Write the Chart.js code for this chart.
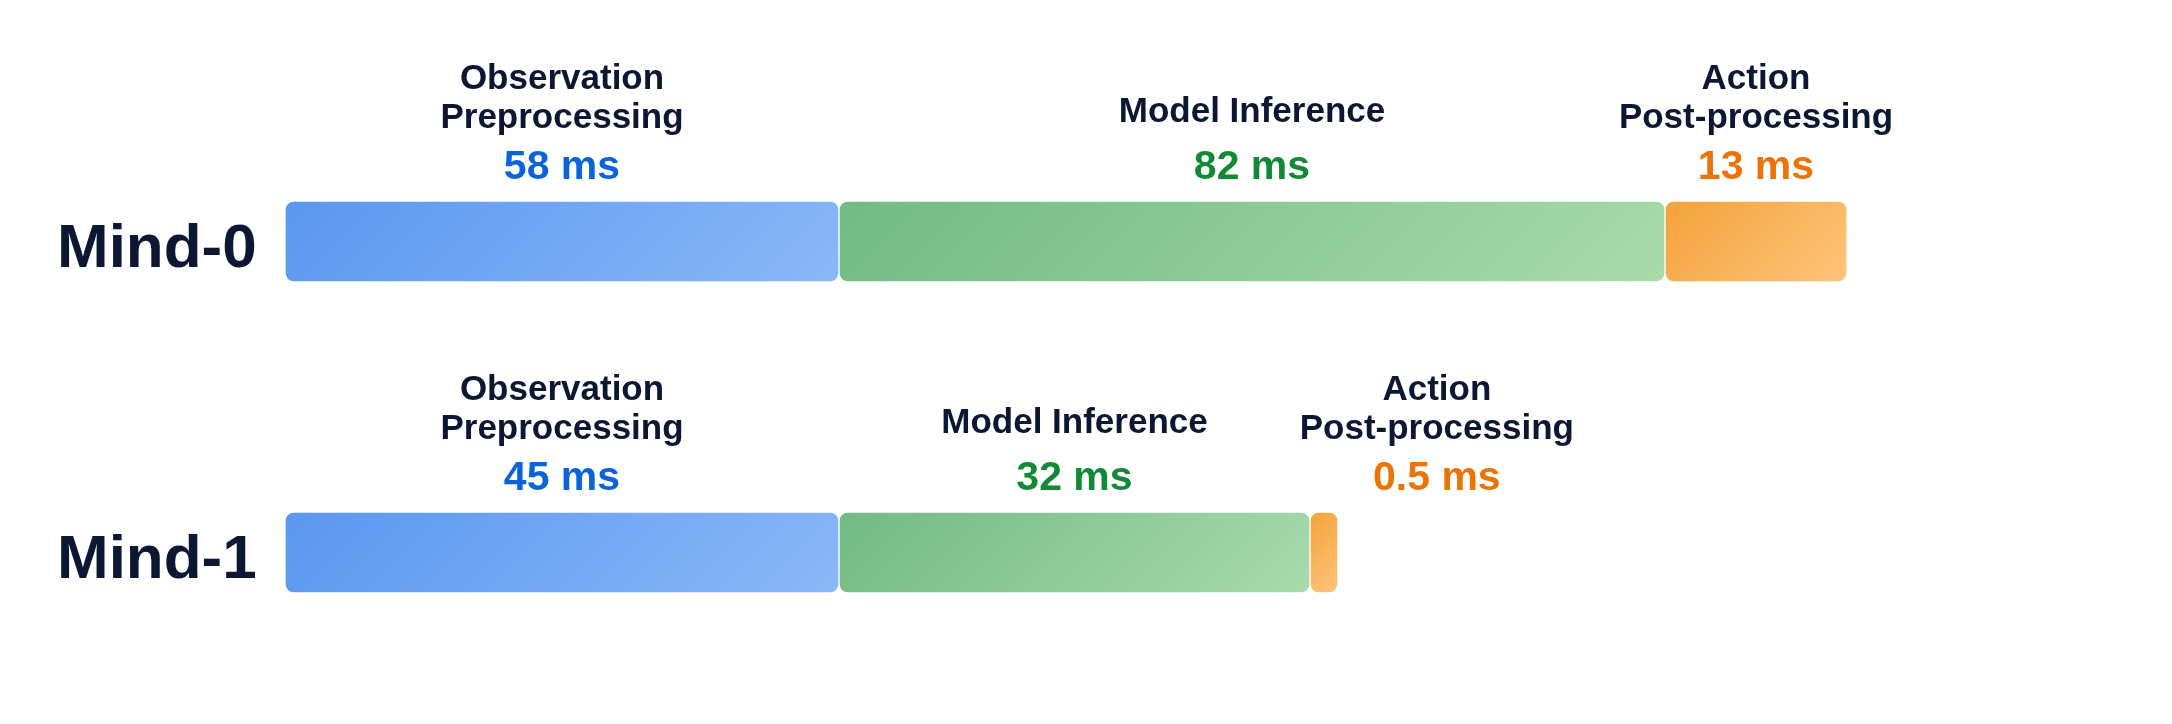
<!DOCTYPE html>
<html>
<head>
<meta charset="utf-8">
<title>Mind latency breakdown</title>
<script src="https://cdn.jsdelivr.net/npm/chart.js@4.4.1/dist/chart.umd.min.js"></script>
<style>
  html, body { margin: 0; padding: 0; background: #ffffff; }
  #wrap { width: 2172px; height: 724px; position: relative; }
</style>
</head>
<body>
<div id="wrap"><canvas id="latencyChart"></canvas></div>
<script>
const models = ['Mind-0', 'Mind-1'];
const stageNames = ['Observation\nPreprocessing', 'Model Inference', 'Action\nPost-processing'];

// drawn segment lengths as they appear in the picture (bars are not to scale with the ms labels)
const preprocessLength = [554, 554];
const inferenceLength = [826, 471];
const postprocessLength = [182, 28];

// timing labels
const preprocessMs = ['58 ms', '45 ms'];
const inferenceMs = ['82 ms', '32 ms'];
const postprocessMs = ['13 ms', '0.5 ms'];

const axisMax = 1800;

const TEXT_DARK = '#0c1733';
const FONT = '"Liberation Sans", Arial, Helvetica, sans-serif';

const stageStyles = [
    { from: '#5b97ef', to: '#8ab8f8', text: '#0b63dc' },
    { from: '#72ba84', to: '#a8dbab', text: '#128a35' },
    { from: '#f4a23a', to: '#fec47c', text: '#ec7404' },
];

const lengths = [preprocessLength, inferenceLength, postprocessLength];
const msLabels = [preprocessMs, inferenceMs, postprocessMs];

const BAR_THICKNESS = 81;

// 135deg style gradient for each segment (top-left darker, bottom-right lighter)
function segmentGradient(context) {
    const chart = context.chart;
    const style = stageStyles[context.datasetIndex];
    const xScale = chart.scales.x;
    const yScale = chart.scales.y;
    if (!chart.chartArea || !xScale || !yScale) return style.from;
    const i = context.dataIndex;
    let start = 0;
    for (let d = 0; d < context.datasetIndex; d++) start += lengths[d][i];
    const end = start + lengths[context.datasetIndex][i];
    const x0 = xScale.getPixelForValue(start);
    const x1 = xScale.getPixelForValue(end);
    const yc = yScale.getPixelForValue(i);
    const cx = (x0 + x1) / 2;
    const half = (Math.abs(x1 - x0) + BAR_THICKNESS) / 4; // half length of the 45deg gradient line, per axis
    const g = chart.ctx.createLinearGradient(cx - half, yc - half, cx + half, yc + half);
    g.addColorStop(0, style.from);
    g.addColorStop(1, style.to);
    return g;
}

// stage names and timings above each segment
const stageLabels = {
    id: 'stageLabels',
    afterDatasetsDraw(chart) {
        const ctx = chart.ctx;
        const catFont = 'bold 35px ' + FONT;
        const valFont = 'bold 41px ' + FONT;
        const minGap = 92;
        ctx.save();
        ctx.textAlign = 'center';
        ctx.textBaseline = 'alphabetic';
        models.forEach((m, i) => {
            let prevRight = -Infinity;
            stageNames.forEach((name, d) => {
                const el = chart.getDatasetMeta(d).data[i];
                if (!el) return;
                const lines = name.split('\n');
                const top = el.y - BAR_THICKNESS / 2 + 1;
                const segCenter = (el.x + el.base) / 2;

                ctx.font = catFont;
                let w = Math.max(...lines.map(l => ctx.measureText(l).width));
                ctx.font = valFont;
                w = Math.max(w, ctx.measureText(msLabels[d][i]).width);
                const cx = Math.max(segCenter, prevRight + minGap + w / 2);
                prevRight = cx + w / 2;

                ctx.font = catFont;
                ctx.fillStyle = TEXT_DARK;
                const lastBase = lines.length > 1 ? top - 74 : top - 80;
                lines.forEach((line, k) => {
                    ctx.fillText(line, cx, lastBase - (lines.length - 1 - k) * 39.5);
                });

                ctx.font = valFont;
                ctx.fillStyle = stageStyles[d].text;
                ctx.fillText(msLabels[d][i], cx, top - 23);
            });
        });
        ctx.restore();
    }
};

const datasets = stageNames.map((name, d) => ({
    label: name.replace('\n', ' '),
    data: lengths[d],
    backgroundColor: segmentGradient,
    borderColor: '#ffffff',
    borderWidth: 1,
    borderSkipped: false,
    borderRadius: { topLeft: 9, topRight: 9, bottomLeft: 9, bottomRight: 9 },
    barThickness: BAR_THICKNESS,
}));

new Chart(document.getElementById('latencyChart'), {
    type: 'bar',
    data: { labels: models, datasets },
    options: {
        indexAxis: 'y',
        responsive: true,
        maintainAspectRatio: false,
        animation: false,
        devicePixelRatio: 1,
        layout: { padding: { left: 57, right: 87, top: 86, bottom: 16 } },
        plugins: {
            legend: { display: false },
            tooltip: { enabled: false },
        },
        scales: {
            x: {
                stacked: true,
                min: 0,
                max: axisMax,
                display: false,
            },
            y: {
                stacked: true,
                grid: { display: false },
                border: { display: false },
                afterFit(scale) {
                    scale.width = 228;
                    scale.paddingTop = 0;
                    scale.paddingBottom = 0;
                },
                ticks: {
                    crossAlign: 'far',
                    labelOffset: 8,
                    color: TEXT_DARK,
                    font: { family: FONT, size: 62, weight: 'bold' },
                },
            },
        },
    },
    plugins: [stageLabels],
});
</script>
</body>
</html>
